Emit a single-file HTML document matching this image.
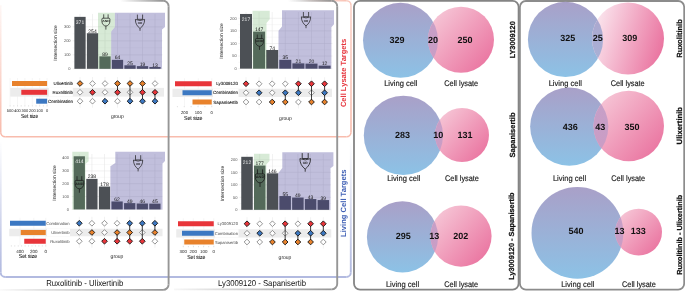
<!DOCTYPE html>
<html><head><meta charset="utf-8"><title>Figure</title>
<style>html,body{margin:0;padding:0;background:#fff;overflow:hidden}svg{display:block}text{font-family:"Liberation Sans",sans-serif;text-rendering:geometricPrecision}</style>
</head><body>
<svg width="685" height="291" viewBox="0 0 685 291">
<g style="will-change:transform">
<defs><linearGradient id="bg" x1="0" y1="0" x2="0" y2="1"><stop offset="0" stop-color="#a9a0c8"/><stop offset="1" stop-color="#8cc2e6"/></linearGradient><linearGradient id="pg1" x1="0.1" y1="0.1" x2="0.95" y2="0.85"><stop offset="0" stop-color="#f6c6d6"/><stop offset="1" stop-color="#ea74a0"/></linearGradient><linearGradient id="pg2" x1="0" y1="0.3" x2="1" y2="0.6"><stop offset="0" stop-color="#fbe9f0"/><stop offset="1" stop-color="#ea74a0"/></linearGradient><linearGradient id="lg1" x1="0" y1="0" x2="0" y2="1"><stop offset="0" stop-color="#c4a0c8"/><stop offset="1" stop-color="#cc9cc4"/></linearGradient><linearGradient id="lg2" x1="0" y1="0" x2="0" y2="1"><stop offset="0" stop-color="#aca4cc"/><stop offset="1" stop-color="#a8b4d8"/></linearGradient><linearGradient id="salm" x1="0" y1="0" x2="0" y2="1"><stop offset="0" stop-color="#f6b4a4" stop-opacity="0.25"/><stop offset="1" stop-color="#f6b09e" stop-opacity="1"/></linearGradient><linearGradient id="blub" x1="0" y1="0" x2="0" y2="1"><stop offset="0" stop-color="#b4b8e6" stop-opacity="0.1"/><stop offset="1" stop-color="#b0b6e6" stop-opacity="1"/></linearGradient><linearGradient id="gbox" x1="0" y1="0" x2="1" y2="1"><stop offset="0.36" stop-color="#666" stop-opacity="0"/><stop offset="0.5" stop-color="#666" stop-opacity="0.9"/><stop offset="1" stop-color="#555" stop-opacity="1"/></linearGradient></defs>
<linearGradient id="sat" gradientUnits="userSpaceOnUse" x1="300" y1="0" x2="346" y2="0"><stop offset="0" stop-color="#f8bcad" stop-opacity="0"/><stop offset="1" stop-color="#f8bcad" stop-opacity="0.9"/></linearGradient><path d="M5.2,0.7 H346.5" fill="none" stroke="url(#sat)" stroke-width="1.6"/><linearGradient id="sal" gradientUnits="userSpaceOnUse" x1="0" y1="5" x2="0" y2="132"><stop offset="0" stop-color="#f8bcad" stop-opacity="0.12"/><stop offset="1" stop-color="#f8bcad" stop-opacity="1"/></linearGradient><path d="M0.7,5.2 V132.3" fill="none" stroke="url(#sal)" stroke-width="1.6"/><linearGradient id="sar" gradientUnits="userSpaceOnUse" x1="0" y1="5.2" x2="0" y2="132.3"><stop offset="0" stop-color="#f8bcad" stop-opacity="0.7"/><stop offset="1" stop-color="#f8bcad" stop-opacity="1"/></linearGradient><path d="M351,5.2 V132.3" fill="none" stroke="url(#sar)" stroke-width="1.6"/><linearGradient id="sab" gradientUnits="userSpaceOnUse" x1="5.2" y1="0" x2="346.5" y2="0"><stop offset="0" stop-color="#f8bcad" stop-opacity="1"/><stop offset="1" stop-color="#f8bcad" stop-opacity="1"/></linearGradient><path d="M5.2,136.8 H346.5" fill="none" stroke="url(#sab)" stroke-width="1.6"/><path d="M346.5,0.7 A4.5,4.5 0 0 1 351,5.2" fill="none" stroke="#f8bcad" stroke-opacity="0.8" stroke-width="1.6"/><path d="M351,132.3 A4.5,4.5 0 0 1 346.5,136.8" fill="none" stroke="#f8bcad" stroke-opacity="1" stroke-width="1.6"/><path d="M5.2,136.8 A4.5,4.5 0 0 1 0.7,132.3" fill="none" stroke="#f8bcad" stroke-opacity="1" stroke-width="1.6"/><linearGradient id="bll" gradientUnits="userSpaceOnUse" x1="0" y1="140" x2="0" y2="272"><stop offset="0" stop-color="#b2bae0" stop-opacity="0"/><stop offset="1" stop-color="#b2bae0" stop-opacity="1"/></linearGradient><path d="M0.7,142.1 V272.5" fill="none" stroke="url(#bll)" stroke-width="1.9"/><linearGradient id="blr" gradientUnits="userSpaceOnUse" x1="0" y1="140" x2="0" y2="272"><stop offset="0" stop-color="#b2bae0" stop-opacity="0"/><stop offset="1" stop-color="#b2bae0" stop-opacity="1"/></linearGradient><path d="M350.8,142.1 V272.5" fill="none" stroke="url(#blr)" stroke-width="1.9"/><linearGradient id="blb" gradientUnits="userSpaceOnUse" x1="5.2" y1="0" x2="346.3" y2="0"><stop offset="0" stop-color="#b2bae0" stop-opacity="1"/><stop offset="1" stop-color="#b2bae0" stop-opacity="1"/></linearGradient><path d="M5.2,277 H346.3" fill="none" stroke="url(#blb)" stroke-width="1.9"/><path d="M350.8,272.5 A4.5,4.5 0 0 1 346.3,277" fill="none" stroke="#b2bae0" stroke-opacity="1" stroke-width="1.9"/><path d="M5.2,277 A4.5,4.5 0 0 1 0.7,272.5" fill="none" stroke="#b2bae0" stroke-opacity="1" stroke-width="1.9"/><line x1="72.5" y1="68.8" x2="162.5" y2="68.8" stroke="#e2e2e2" stroke-width="0.5"/><line x1="72.5" y1="54.8" x2="162.5" y2="54.8" stroke="#e2e2e2" stroke-width="0.5"/><line x1="72.5" y1="40.8" x2="162.5" y2="40.8" stroke="#e2e2e2" stroke-width="0.5"/><line x1="72.5" y1="26.8" x2="162.5" y2="26.8" stroke="#e2e2e2" stroke-width="0.5"/><line x1="72.5" y1="61.8" x2="162.5" y2="61.8" stroke="#efefef" stroke-width="0.4"/><line x1="72.5" y1="47.8" x2="162.5" y2="47.8" stroke="#efefef" stroke-width="0.4"/><line x1="72.5" y1="33.8" x2="162.5" y2="33.8" stroke="#efefef" stroke-width="0.4"/><line x1="72.5" y1="19.8" x2="162.5" y2="19.8" stroke="#efefef" stroke-width="0.4"/><line x1="80" y1="13.9" x2="80" y2="68.8" stroke="#e2e2e2" stroke-width="0.5"/><line x1="92.5" y1="13.9" x2="92.5" y2="68.8" stroke="#e2e2e2" stroke-width="0.5"/><line x1="105" y1="13.9" x2="105" y2="68.8" stroke="#e2e2e2" stroke-width="0.5"/><line x1="117.5" y1="13.9" x2="117.5" y2="68.8" stroke="#e2e2e2" stroke-width="0.5"/><line x1="130" y1="13.9" x2="130" y2="68.8" stroke="#e2e2e2" stroke-width="0.5"/><line x1="142.5" y1="13.9" x2="142.5" y2="68.8" stroke="#e2e2e2" stroke-width="0.5"/><line x1="155" y1="13.9" x2="155" y2="68.8" stroke="#e2e2e2" stroke-width="0.5"/><rect x="74.38" y="16.86" width="11.25" height="51.94" fill="#4c5055"/><rect x="86.88" y="33.24" width="11.25" height="35.56" fill="#4c5055"/><rect x="99.38" y="56.34" width="11.25" height="12.46" fill="#4c5055"/><rect x="111.88" y="59.84" width="11.25" height="8.96" fill="#4c5055"/><rect x="124.38" y="65.3" width="11.25" height="3.5" fill="#4c5055"/><rect x="136.88" y="66.14" width="11.25" height="2.66" fill="#4c5055"/><rect x="149.38" y="66.98" width="11.25" height="1.82" fill="#4c5055"/><polygon points="98,12.8 114.9,12.8 114.9,27.1 111.2,31.5 111.2,68.8 98,68.8" fill="rgba(107,177,103,0.27)"/><polygon points="114.9,12.8 165,12.8 165,27.1 162,29.4 162,68.8 111.2,68.8 111.2,31.5 114.9,27.1" fill="rgba(73,67,152,0.34)"/><text x="80" y="23.86" font-size="5" fill="#f2f2f2" text-anchor="middle">371</text><text x="92.5" y="32.84" font-size="5" fill="#111" text-anchor="middle">254</text><text x="105" y="55.94" font-size="5" fill="#111" text-anchor="middle">89</text><text x="117.5" y="59.44" font-size="5" fill="#111" text-anchor="middle">64</text><text x="130" y="64.9" font-size="5" fill="#111" text-anchor="middle">25</text><text x="142.5" y="65.74" font-size="5" fill="#111" text-anchor="middle">19</text><text x="155" y="66.58" font-size="5" fill="#111" text-anchor="middle">13</text><text x="70.6" y="70.2" font-size="4" fill="#555" text-anchor="end">0</text><text x="70.6" y="56.2" font-size="4" fill="#555" text-anchor="end">100</text><text x="70.6" y="42.2" font-size="4" fill="#555" text-anchor="end">200</text><text x="70.6" y="28.2" font-size="4" fill="#555" text-anchor="end">300</text><text transform="translate(57.2,43) rotate(-90)" font-size="4.9" fill="#222" text-anchor="middle">Intersection size</text><g transform="translate(105.9,14.3) scale(1)" fill="none" stroke="#1a1a1a" stroke-width="0.7" stroke-linecap="butt" stroke-linejoin="round"><path d="M-2.2,0 V3.9 M2.2,0 V3.9"/><path d="M-4,7 V4.9 Q-4,3.9 -3,3.9 H3 Q4,3.9 4,4.9 V7 C4,9.7 2,11.7 0,11.7 C-2,11.7 -4,9.7 -4,7 Z"/><path d="M0,11.7 V15.3"/><text x="0" y="7.75" font-size="3.1" text-anchor="middle" fill="#1a1a1a" stroke="none" font-weight="bold" transform="scale(1.12,1)">AND</text></g><g transform="translate(140,14.6) scale(1)" fill="none" stroke="#1a1a1a" stroke-width="0.7" stroke-linecap="butt" stroke-linejoin="round"><path d="M-2.6,0 V4.7 H2.6 V0"/><path d="M-4.6,4.8 Q0,7 4.6,4.8 C4.8,8.8 2.6,12 0,13.9 C-2.6,12 -4.8,8.8 -4.6,4.8 Z"/><path d="M0,13.9 V16.2"/><text x="0" y="9.8" font-size="2.9" text-anchor="middle" fill="#1a1a1a" stroke="none" font-weight="bold">OR</text></g><rect x="10.2" y="87.9" width="153.8" height="8.7" fill="#ececec"/><rect x="48.8" y="87.9" width="24" height="8.7" fill="#fff"/><line x1="10.1" y1="78" x2="10.1" y2="105.4" stroke="#ececec" stroke-width="0.5"/><line x1="17.5" y1="78" x2="17.5" y2="105.4" stroke="#ececec" stroke-width="0.5"/><line x1="24.9" y1="78" x2="24.9" y2="105.4" stroke="#ececec" stroke-width="0.5"/><line x1="32.3" y1="78" x2="32.3" y2="105.4" stroke="#ececec" stroke-width="0.5"/><line x1="39.7" y1="78" x2="39.7" y2="105.4" stroke="#ececec" stroke-width="0.5"/><line x1="47.1" y1="78" x2="47.1" y2="105.4" stroke="#ececec" stroke-width="0.5"/><line x1="47.1" y1="105.4" x2="47.1" y2="106.4" stroke="#b4b4b4" stroke-width="0.5"/><line x1="43.4" y1="105.4" x2="43.4" y2="106.4" stroke="#b4b4b4" stroke-width="0.5"/><line x1="39.7" y1="105.4" x2="39.7" y2="106.4" stroke="#b4b4b4" stroke-width="0.5"/><line x1="36" y1="105.4" x2="36" y2="106.4" stroke="#b4b4b4" stroke-width="0.5"/><line x1="32.3" y1="105.4" x2="32.3" y2="106.4" stroke="#b4b4b4" stroke-width="0.5"/><line x1="28.6" y1="105.4" x2="28.6" y2="106.4" stroke="#b4b4b4" stroke-width="0.5"/><line x1="24.9" y1="105.4" x2="24.9" y2="106.4" stroke="#b4b4b4" stroke-width="0.5"/><line x1="21.2" y1="105.4" x2="21.2" y2="106.4" stroke="#b4b4b4" stroke-width="0.5"/><line x1="17.5" y1="105.4" x2="17.5" y2="106.4" stroke="#b4b4b4" stroke-width="0.5"/><line x1="13.8" y1="105.4" x2="13.8" y2="106.4" stroke="#b4b4b4" stroke-width="0.5"/><line x1="10.1" y1="105.4" x2="10.1" y2="106.4" stroke="#b4b4b4" stroke-width="0.5"/><rect x="12" y="81" width="35.1" height="5" fill="#e8822c"/><rect x="21.3" y="89.8" width="25.8" height="5" fill="#e8353a"/><rect x="36.2" y="98.7" width="10.9" height="5" fill="#3c78c2"/><text x="10.1" y="111.8" font-size="4" fill="#222" text-anchor="middle">500</text><text x="17.5" y="111.8" font-size="4" fill="#222" text-anchor="middle">400</text><text x="24.9" y="111.8" font-size="4" fill="#222" text-anchor="middle">300</text><text x="32.3" y="111.8" font-size="4" fill="#222" text-anchor="middle">200</text><text x="39.7" y="111.8" font-size="4" fill="#222" text-anchor="middle">100</text><text x="47.1" y="111.8" font-size="4" fill="#222" text-anchor="middle">0</text><text x="29.65" y="117.7" font-size="5.8" fill="#1a1a1a" stroke="#1a1a1a" stroke-width="0.1" text-anchor="middle" textLength="17.1" lengthAdjust="spacingAndGlyphs">Set size</text><text x="117.3" y="117.7" font-size="5.1" fill="#222" text-anchor="middle" textLength="12.8" lengthAdjust="spacingAndGlyphs">group</text><text x="73" y="85.1" font-size="4.45" fill="#1c1c1c" stroke="#1c1c1c" stroke-width="0.1" text-anchor="end">Ulixertinib</text><text x="73" y="93.9" font-size="4.45" fill="#1c1c1c" stroke="#1c1c1c" stroke-width="0.1" text-anchor="end">Ruxolitinib</text><text x="73" y="102.8" font-size="4.45" fill="#1c1c1c" stroke="#1c1c1c" stroke-width="0.1" text-anchor="end">Combination</text><line x1="80" y1="77" x2="80" y2="107.7" stroke="#e4e4e4" stroke-width="0.5"/><line x1="92.5" y1="77" x2="92.5" y2="107.7" stroke="#e4e4e4" stroke-width="0.5"/><line x1="105" y1="77" x2="105" y2="107.7" stroke="#e4e4e4" stroke-width="0.5"/><line x1="117.5" y1="77" x2="117.5" y2="107.7" stroke="#e4e4e4" stroke-width="0.5"/><line x1="130" y1="77" x2="130" y2="107.7" stroke="#e4e4e4" stroke-width="0.5"/><line x1="142.5" y1="77" x2="142.5" y2="107.7" stroke="#e4e4e4" stroke-width="0.5"/><line x1="155" y1="77" x2="155" y2="107.7" stroke="#e4e4e4" stroke-width="0.5"/><polygon points="92.5,80.65 95.35,83.5 92.5,86.35 89.65,83.5" fill="#fff" stroke="#7a7a7a" stroke-width="0.8"/><polygon points="105,80.65 107.85,83.5 105,86.35 102.15,83.5" fill="#fff" stroke="#7a7a7a" stroke-width="0.8"/><polygon points="155,80.65 157.85,83.5 155,86.35 152.15,83.5" fill="#fff" stroke="#7a7a7a" stroke-width="0.8"/><polygon points="80,89.45 82.85,92.3 80,95.15 77.15,92.3" fill="#fff" stroke="#7a7a7a" stroke-width="0.8"/><polygon points="105,89.45 107.85,92.3 105,95.15 102.15,92.3" fill="#fff" stroke="#7a7a7a" stroke-width="0.8"/><polygon points="130,89.45 132.85,92.3 130,95.15 127.15,92.3" fill="#fff" stroke="#7a7a7a" stroke-width="0.8"/><polygon points="80,98.35 82.85,101.2 80,104.05 77.15,101.2" fill="#fff" stroke="#7a7a7a" stroke-width="0.8"/><polygon points="92.5,98.35 95.35,101.2 92.5,104.05 89.65,101.2" fill="#fff" stroke="#7a7a7a" stroke-width="0.8"/><polygon points="117.5,98.35 120.35,101.2 117.5,104.05 114.65,101.2" fill="#fff" stroke="#7a7a7a" stroke-width="0.8"/><line x1="117.5" y1="83.5" x2="117.5" y2="92.3" stroke="#111" stroke-width="0.8"/><line x1="130" y1="83.5" x2="130" y2="101.2" stroke="#111" stroke-width="0.8"/><line x1="142.5" y1="83.5" x2="142.5" y2="101.2" stroke="#111" stroke-width="0.8"/><line x1="155" y1="92.3" x2="155" y2="101.2" stroke="#111" stroke-width="0.8"/><polygon points="80,80.65 82.85,83.5 80,86.35 77.15,83.5" fill="#e8822c" stroke="#111" stroke-width="0.9"/><polygon points="117.5,80.65 120.35,83.5 117.5,86.35 114.65,83.5" fill="#e8822c" stroke="#111" stroke-width="0.9"/><polygon points="130,80.65 132.85,83.5 130,86.35 127.15,83.5" fill="#e8822c" stroke="#111" stroke-width="0.9"/><polygon points="142.5,80.65 145.35,83.5 142.5,86.35 139.65,83.5" fill="#e8822c" stroke="#111" stroke-width="0.9"/><polygon points="92.5,89.45 95.35,92.3 92.5,95.15 89.65,92.3" fill="#e8353a" stroke="#111" stroke-width="0.9"/><polygon points="117.5,89.45 120.35,92.3 117.5,95.15 114.65,92.3" fill="#e8353a" stroke="#111" stroke-width="0.9"/><polygon points="142.5,89.45 145.35,92.3 142.5,95.15 139.65,92.3" fill="#e8353a" stroke="#111" stroke-width="0.9"/><polygon points="155,89.45 157.85,92.3 155,95.15 152.15,92.3" fill="#e8353a" stroke="#111" stroke-width="0.9"/><polygon points="105,98.35 107.85,101.2 105,104.05 102.15,101.2" fill="#3c78c2" stroke="#111" stroke-width="0.9"/><polygon points="130,98.35 132.85,101.2 130,104.05 127.15,101.2" fill="#3c78c2" stroke="#111" stroke-width="0.9"/><polygon points="142.5,98.35 145.35,101.2 142.5,104.05 139.65,101.2" fill="#3c78c2" stroke="#111" stroke-width="0.9"/><polygon points="155,98.35 157.85,101.2 155,104.05 152.15,101.2" fill="#3c78c2" stroke="#111" stroke-width="0.9"/><line x1="238.14" y1="68.65" x2="332.46" y2="68.65" stroke="#e2e2e2" stroke-width="0.5"/><line x1="238.14" y1="56.05" x2="332.46" y2="56.05" stroke="#e2e2e2" stroke-width="0.5"/><line x1="238.14" y1="43.45" x2="332.46" y2="43.45" stroke="#e2e2e2" stroke-width="0.5"/><line x1="238.14" y1="30.85" x2="332.46" y2="30.85" stroke="#e2e2e2" stroke-width="0.5"/><line x1="238.14" y1="18.25" x2="332.46" y2="18.25" stroke="#e2e2e2" stroke-width="0.5"/><line x1="238.14" y1="62.35" x2="332.46" y2="62.35" stroke="#efefef" stroke-width="0.4"/><line x1="238.14" y1="49.75" x2="332.46" y2="49.75" stroke="#efefef" stroke-width="0.4"/><line x1="238.14" y1="37.15" x2="332.46" y2="37.15" stroke="#efefef" stroke-width="0.4"/><line x1="238.14" y1="24.55" x2="332.46" y2="24.55" stroke="#efefef" stroke-width="0.4"/><line x1="246" y1="12" x2="246" y2="68.65" stroke="#e2e2e2" stroke-width="0.5"/><line x1="259.1" y1="12" x2="259.1" y2="68.65" stroke="#e2e2e2" stroke-width="0.5"/><line x1="272.2" y1="12" x2="272.2" y2="68.65" stroke="#e2e2e2" stroke-width="0.5"/><line x1="285.3" y1="12" x2="285.3" y2="68.65" stroke="#e2e2e2" stroke-width="0.5"/><line x1="298.4" y1="12" x2="298.4" y2="68.65" stroke="#e2e2e2" stroke-width="0.5"/><line x1="311.5" y1="12" x2="311.5" y2="68.65" stroke="#e2e2e2" stroke-width="0.5"/><line x1="324.6" y1="12" x2="324.6" y2="68.65" stroke="#e2e2e2" stroke-width="0.5"/><rect x="240" y="13.97" width="12" height="54.68" fill="#4c5055"/><rect x="253.1" y="31.61" width="12" height="37.04" fill="#4c5055"/><rect x="266.2" y="50" width="12" height="18.65" fill="#4c5055"/><rect x="279.3" y="59.83" width="12" height="8.82" fill="#4c5055"/><rect x="292.4" y="63.36" width="12" height="5.29" fill="#4c5055"/><rect x="305.5" y="63.61" width="12" height="5.04" fill="#4c5055"/><rect x="318.6" y="65.63" width="12" height="3.02" fill="#4c5055"/><polygon points="252.6,10.8 269.7,10.8 269.7,19.2 266.5,23 266.5,68.65 252.6,68.65" fill="rgba(107,177,103,0.27)"/><polygon points="282,10.2 334,10.2 334,24.3 331.4,27.3 331.4,68.65 278.5,68.65 278.5,30.7 282,26.5" fill="rgba(73,67,152,0.34)"/><text x="246" y="20.97" font-size="5" fill="#f2f2f2" text-anchor="middle">217</text><text x="259.1" y="31.21" font-size="5" fill="#111" text-anchor="middle">147</text><text x="272.2" y="49.6" font-size="5" fill="#111" text-anchor="middle">74</text><text x="285.3" y="59.43" font-size="5" fill="#111" text-anchor="middle">35</text><text x="298.4" y="62.96" font-size="5" fill="#111" text-anchor="middle">21</text><text x="311.5" y="63.21" font-size="5" fill="#111" text-anchor="middle">20</text><text x="324.6" y="65.23" font-size="5" fill="#111" text-anchor="middle">12</text><text x="236.7" y="70.05" font-size="4" fill="#555" text-anchor="end">0</text><text x="236.7" y="57.45" font-size="4" fill="#555" text-anchor="end">50</text><text x="236.7" y="44.85" font-size="4" fill="#555" text-anchor="end">100</text><text x="236.7" y="32.25" font-size="4" fill="#555" text-anchor="end">150</text><text x="236.7" y="19.65" font-size="4" fill="#555" text-anchor="end">200</text><text transform="translate(223.2,41) rotate(-90)" font-size="4.9" fill="#222" text-anchor="middle">Intersection size</text><g transform="translate(259.5,34.6) scale(1)" fill="none" stroke="#1a1a1a" stroke-width="0.7" stroke-linecap="butt" stroke-linejoin="round"><path d="M-2.2,0 V3.9 M2.2,0 V3.9"/><path d="M-4,7 V4.9 Q-4,3.9 -3,3.9 H3 Q4,3.9 4,4.9 V7 C4,9.7 2,11.7 0,11.7 C-2,11.7 -4,9.7 -4,7 Z"/><path d="M0,11.7 V15.3"/><text x="0" y="7.75" font-size="3.1" text-anchor="middle" fill="#1a1a1a" stroke="none" font-weight="bold" transform="scale(1.12,1)">AND</text></g><g transform="translate(306,12) scale(1)" fill="none" stroke="#1a1a1a" stroke-width="0.7" stroke-linecap="butt" stroke-linejoin="round"><path d="M-2.6,0 V4.7 H2.6 V0"/><path d="M-4.6,4.8 Q0,7 4.6,4.8 C4.8,8.8 2.6,12 0,13.9 C-2.6,12 -4.8,8.8 -4.6,4.8 Z"/><path d="M0,13.9 V16.2"/><text x="0" y="9.8" font-size="2.9" text-anchor="middle" fill="#1a1a1a" stroke="none" font-weight="bold">OR</text></g><rect x="172.5" y="88.75" width="159.5" height="8.25" fill="#ececec"/><rect x="213" y="88.75" width="25.5" height="8.25" fill="#fff"/><line x1="184.5" y1="78.25" x2="184.5" y2="106.2" stroke="#ececec" stroke-width="0.5"/><line x1="198.25" y1="78.25" x2="198.25" y2="106.2" stroke="#ececec" stroke-width="0.5"/><line x1="211.75" y1="78.25" x2="211.75" y2="106.2" stroke="#ececec" stroke-width="0.5"/><line x1="211.75" y1="106.2" x2="211.75" y2="107.2" stroke="#b4b4b4" stroke-width="0.5"/><line x1="204.88" y1="106.2" x2="204.88" y2="107.2" stroke="#b4b4b4" stroke-width="0.5"/><line x1="198" y1="106.2" x2="198" y2="107.2" stroke="#b4b4b4" stroke-width="0.5"/><line x1="191.12" y1="106.2" x2="191.12" y2="107.2" stroke="#b4b4b4" stroke-width="0.5"/><line x1="184.25" y1="106.2" x2="184.25" y2="107.2" stroke="#b4b4b4" stroke-width="0.5"/><line x1="177.38" y1="106.2" x2="177.38" y2="107.2" stroke="#b4b4b4" stroke-width="0.5"/><rect x="175" y="81.25" width="36.75" height="5" fill="#e8353a"/><rect x="182.5" y="90.25" width="29.25" height="5" fill="#3c78c2"/><rect x="192.5" y="99.5" width="19.25" height="5" fill="#e8822c"/><text x="184.5" y="113.5" font-size="4.2" fill="#222" text-anchor="middle">200</text><text x="198.25" y="113.5" font-size="4.2" fill="#222" text-anchor="middle">100</text><text x="211.75" y="113.5" font-size="4.2" fill="#222" text-anchor="middle">0</text><text x="193.25" y="119.5" font-size="5.8" fill="#1a1a1a" stroke="#1a1a1a" stroke-width="0.1" text-anchor="middle" textLength="18.5" lengthAdjust="spacingAndGlyphs">Set size</text><text x="285.5" y="119.5" font-size="5.1" fill="#222" text-anchor="middle" textLength="12.8" lengthAdjust="spacingAndGlyphs">group</text><text x="238" y="85.35" font-size="4.45" fill="#1c1c1c" stroke="#1c1c1c" stroke-width="0.1" text-anchor="end">Ly3009120</text><text x="238" y="94.35" font-size="4.45" fill="#1c1c1c" stroke="#1c1c1c" stroke-width="0.1" text-anchor="end">Combination</text><text x="238" y="103.6" font-size="4.45" fill="#1c1c1c" stroke="#1c1c1c" stroke-width="0.1" text-anchor="end">Sapanisertib</text><line x1="246" y1="77.25" x2="246" y2="108.5" stroke="#e4e4e4" stroke-width="0.5"/><line x1="259.1" y1="77.25" x2="259.1" y2="108.5" stroke="#e4e4e4" stroke-width="0.5"/><line x1="272.2" y1="77.25" x2="272.2" y2="108.5" stroke="#e4e4e4" stroke-width="0.5"/><line x1="285.3" y1="77.25" x2="285.3" y2="108.5" stroke="#e4e4e4" stroke-width="0.5"/><line x1="298.4" y1="77.25" x2="298.4" y2="108.5" stroke="#e4e4e4" stroke-width="0.5"/><line x1="311.5" y1="77.25" x2="311.5" y2="108.5" stroke="#e4e4e4" stroke-width="0.5"/><line x1="324.6" y1="77.25" x2="324.6" y2="108.5" stroke="#e4e4e4" stroke-width="0.5"/><polygon points="259.1,80.9 261.95,83.75 259.1,86.6 256.25,83.75" fill="#fff" stroke="#7a7a7a" stroke-width="0.8"/><polygon points="272.2,80.9 275.05,83.75 272.2,86.6 269.35,83.75" fill="#fff" stroke="#7a7a7a" stroke-width="0.8"/><polygon points="285.3,80.9 288.15,83.75 285.3,86.6 282.45,83.75" fill="#fff" stroke="#7a7a7a" stroke-width="0.8"/><polygon points="246,89.9 248.85,92.75 246,95.6 243.15,92.75" fill="#fff" stroke="#7a7a7a" stroke-width="0.8"/><polygon points="272.2,89.9 275.05,92.75 272.2,95.6 269.35,92.75" fill="#fff" stroke="#7a7a7a" stroke-width="0.8"/><polygon points="311.5,89.9 314.35,92.75 311.5,95.6 308.65,92.75" fill="#fff" stroke="#7a7a7a" stroke-width="0.8"/><polygon points="246,99.15 248.85,102 246,104.85 243.15,102" fill="#fff" stroke="#7a7a7a" stroke-width="0.8"/><polygon points="259.1,99.15 261.95,102 259.1,104.85 256.25,102" fill="#fff" stroke="#7a7a7a" stroke-width="0.8"/><polygon points="298.4,99.15 301.25,102 298.4,104.85 295.55,102" fill="#fff" stroke="#7a7a7a" stroke-width="0.8"/><line x1="285.3" y1="92.75" x2="285.3" y2="102" stroke="#111" stroke-width="0.8"/><line x1="298.4" y1="83.75" x2="298.4" y2="92.75" stroke="#111" stroke-width="0.8"/><line x1="311.5" y1="83.75" x2="311.5" y2="102" stroke="#111" stroke-width="0.8"/><line x1="324.6" y1="83.75" x2="324.6" y2="102" stroke="#111" stroke-width="0.8"/><polygon points="246,80.9 248.85,83.75 246,86.6 243.15,83.75" fill="#e8353a" stroke="#111" stroke-width="0.9"/><polygon points="298.4,80.9 301.25,83.75 298.4,86.6 295.55,83.75" fill="#e8353a" stroke="#111" stroke-width="0.9"/><polygon points="311.5,80.9 314.35,83.75 311.5,86.6 308.65,83.75" fill="#e8353a" stroke="#111" stroke-width="0.9"/><polygon points="324.6,80.9 327.45,83.75 324.6,86.6 321.75,83.75" fill="#e8353a" stroke="#111" stroke-width="0.9"/><polygon points="259.1,89.9 261.95,92.75 259.1,95.6 256.25,92.75" fill="#3c78c2" stroke="#111" stroke-width="0.9"/><polygon points="285.3,89.9 288.15,92.75 285.3,95.6 282.45,92.75" fill="#3c78c2" stroke="#111" stroke-width="0.9"/><polygon points="298.4,89.9 301.25,92.75 298.4,95.6 295.55,92.75" fill="#3c78c2" stroke="#111" stroke-width="0.9"/><polygon points="324.6,89.9 327.45,92.75 324.6,95.6 321.75,92.75" fill="#3c78c2" stroke="#111" stroke-width="0.9"/><polygon points="272.2,99.15 275.05,102 272.2,104.85 269.35,102" fill="#e8822c" stroke="#111" stroke-width="0.9"/><polygon points="285.3,99.15 288.15,102 285.3,104.85 282.45,102" fill="#e8822c" stroke="#111" stroke-width="0.9"/><polygon points="311.5,99.15 314.35,102 311.5,104.85 308.65,102" fill="#e8822c" stroke="#111" stroke-width="0.9"/><polygon points="324.6,99.15 327.45,102 324.6,104.85 321.75,102" fill="#e8822c" stroke="#111" stroke-width="0.9"/><line x1="71.74" y1="209.4" x2="162.46" y2="209.4" stroke="#e2e2e2" stroke-width="0.5"/><line x1="71.74" y1="196.57" x2="162.46" y2="196.57" stroke="#e2e2e2" stroke-width="0.5"/><line x1="71.74" y1="183.74" x2="162.46" y2="183.74" stroke="#e2e2e2" stroke-width="0.5"/><line x1="71.74" y1="170.91" x2="162.46" y2="170.91" stroke="#e2e2e2" stroke-width="0.5"/><line x1="71.74" y1="158.08" x2="162.46" y2="158.08" stroke="#e2e2e2" stroke-width="0.5"/><line x1="71.74" y1="202.99" x2="162.46" y2="202.99" stroke="#efefef" stroke-width="0.4"/><line x1="71.74" y1="190.16" x2="162.46" y2="190.16" stroke="#efefef" stroke-width="0.4"/><line x1="71.74" y1="177.32" x2="162.46" y2="177.32" stroke="#efefef" stroke-width="0.4"/><line x1="71.74" y1="164.5" x2="162.46" y2="164.5" stroke="#efefef" stroke-width="0.4"/><line x1="79.3" y1="154" x2="79.3" y2="209.4" stroke="#e2e2e2" stroke-width="0.5"/><line x1="91.9" y1="154" x2="91.9" y2="209.4" stroke="#e2e2e2" stroke-width="0.5"/><line x1="104.5" y1="154" x2="104.5" y2="209.4" stroke="#e2e2e2" stroke-width="0.5"/><line x1="117.1" y1="154" x2="117.1" y2="209.4" stroke="#e2e2e2" stroke-width="0.5"/><line x1="129.7" y1="154" x2="129.7" y2="209.4" stroke="#e2e2e2" stroke-width="0.5"/><line x1="142.3" y1="154" x2="142.3" y2="209.4" stroke="#e2e2e2" stroke-width="0.5"/><line x1="154.9" y1="154" x2="154.9" y2="209.4" stroke="#e2e2e2" stroke-width="0.5"/><rect x="73.67" y="156.28" width="11.25" height="53.12" fill="#4c5055"/><rect x="86.27" y="178.86" width="11.25" height="30.54" fill="#4c5055"/><rect x="98.88" y="186.56" width="11.25" height="22.84" fill="#4c5055"/><rect x="111.47" y="201.45" width="11.25" height="7.95" fill="#4c5055"/><rect x="124.07" y="203.11" width="11.25" height="6.29" fill="#4c5055"/><rect x="136.68" y="203.5" width="11.25" height="5.9" fill="#4c5055"/><rect x="149.27" y="203.63" width="11.25" height="5.77" fill="#4c5055"/><polygon points="72.3,151.7 88.6,151.7 88.6,161.2 85.5,164 85.5,209.4 72.3,209.4" fill="rgba(107,177,103,0.27)"/><polygon points="115.3,151.75 165,151.75 165,161 162.5,163.5 162.5,209.4 110.4,209.4 110.4,166.2 115.3,163" fill="rgba(73,67,152,0.34)"/><text x="79.3" y="163.28" font-size="5" fill="#f2f2f2" text-anchor="middle">414</text><text x="91.9" y="178.46" font-size="5" fill="#111" text-anchor="middle">238</text><text x="104.5" y="186.16" font-size="5" fill="#111" text-anchor="middle">178</text><text x="117.1" y="201.05" font-size="5" fill="#111" text-anchor="middle">62</text><text x="129.7" y="202.71" font-size="5" fill="#111" text-anchor="middle">49</text><text x="142.3" y="203.1" font-size="5" fill="#111" text-anchor="middle">46</text><text x="154.9" y="203.23" font-size="5" fill="#111" text-anchor="middle">45</text><text x="69" y="210.8" font-size="4" fill="#555" text-anchor="end">0</text><text x="69" y="197.97" font-size="4" fill="#555" text-anchor="end">100</text><text x="69" y="185.14" font-size="4" fill="#555" text-anchor="end">200</text><text x="69" y="172.31" font-size="4" fill="#555" text-anchor="end">300</text><text x="69" y="159.48" font-size="4" fill="#555" text-anchor="end">400</text><text transform="translate(56.2,183) rotate(-90)" font-size="4.9" fill="#222" text-anchor="middle">Intersection size</text><g transform="translate(79.4,176.2) scale(1.08)" fill="none" stroke="#1a1a1a" stroke-width="0.7" stroke-linecap="butt" stroke-linejoin="round"><path d="M-2.2,0 V3.9 M2.2,0 V3.9"/><path d="M-4,7 V4.9 Q-4,3.9 -3,3.9 H3 Q4,3.9 4,4.9 V7 C4,9.7 2,11.7 0,11.7 C-2,11.7 -4,9.7 -4,7 Z"/><path d="M0,11.7 V15.3"/><text x="0" y="7.75" font-size="3.1" text-anchor="middle" fill="#1a1a1a" stroke="none" font-weight="bold" transform="scale(1.12,1)">AND</text></g><g transform="translate(138.1,155.2) scale(1)" fill="none" stroke="#1a1a1a" stroke-width="0.7" stroke-linecap="butt" stroke-linejoin="round"><path d="M-2.6,0 V4.7 H2.6 V0"/><path d="M-4.6,4.8 Q0,7 4.6,4.8 C4.8,8.8 2.6,12 0,13.9 C-2.6,12 -4.8,8.8 -4.6,4.8 Z"/><path d="M0,13.9 V16.2"/><text x="0" y="9.8" font-size="2.9" text-anchor="middle" fill="#1a1a1a" stroke="none" font-weight="bold">OR</text></g><rect x="9.25" y="228.75" width="153.25" height="7.5" fill="#ececec"/><rect x="47" y="228.75" width="23" height="7.5" fill="#fff"/><line x1="20" y1="217.75" x2="20" y2="245.45" stroke="#ececec" stroke-width="0.5"/><line x1="33.75" y1="217.75" x2="33.75" y2="245.45" stroke="#ececec" stroke-width="0.5"/><line x1="45.75" y1="217.75" x2="45.75" y2="245.45" stroke="#ececec" stroke-width="0.5"/><line x1="45.75" y1="245.45" x2="45.75" y2="246.45" stroke="#b4b4b4" stroke-width="0.5"/><line x1="42.31" y1="245.45" x2="42.31" y2="246.45" stroke="#b4b4b4" stroke-width="0.5"/><line x1="38.87" y1="245.45" x2="38.87" y2="246.45" stroke="#b4b4b4" stroke-width="0.5"/><line x1="35.43" y1="245.45" x2="35.43" y2="246.45" stroke="#b4b4b4" stroke-width="0.5"/><line x1="31.99" y1="245.45" x2="31.99" y2="246.45" stroke="#b4b4b4" stroke-width="0.5"/><line x1="28.55" y1="245.45" x2="28.55" y2="246.45" stroke="#b4b4b4" stroke-width="0.5"/><line x1="25.11" y1="245.45" x2="25.11" y2="246.45" stroke="#b4b4b4" stroke-width="0.5"/><line x1="21.67" y1="245.45" x2="21.67" y2="246.45" stroke="#b4b4b4" stroke-width="0.5"/><line x1="18.23" y1="245.45" x2="18.23" y2="246.45" stroke="#b4b4b4" stroke-width="0.5"/><line x1="14.79" y1="245.45" x2="14.79" y2="246.45" stroke="#b4b4b4" stroke-width="0.5"/><line x1="11.35" y1="245.45" x2="11.35" y2="246.45" stroke="#b4b4b4" stroke-width="0.5"/><rect x="10" y="220.75" width="35.75" height="5" fill="#3c78c2"/><rect x="20.75" y="230" width="25" height="5" fill="#e8822c"/><rect x="24.25" y="238.75" width="21.5" height="5" fill="#e8353a"/><text x="20" y="252.9" font-size="4.5" fill="#222" text-anchor="middle">400</text><text x="33.75" y="252.9" font-size="4.5" fill="#222" text-anchor="middle">200</text><text x="45.75" y="252.9" font-size="4.5" fill="#222" text-anchor="middle">0</text><text x="28" y="258.1" font-size="5.8" fill="#1a1a1a" stroke="#1a1a1a" stroke-width="0.1" text-anchor="middle" textLength="18.5" lengthAdjust="spacingAndGlyphs">Set size</text><text x="117" y="258.1" font-size="5.1" fill="#222" text-anchor="middle" textLength="12.8" lengthAdjust="spacingAndGlyphs">group</text><text x="69.5" y="224.85" font-size="4.17" fill="#4a4a4a" text-anchor="end">Combination</text><text x="69.5" y="234.1" font-size="4.17" fill="#4a4a4a" text-anchor="end">Ulixertinib</text><text x="69.5" y="242.85" font-size="4.17" fill="#4a4a4a" text-anchor="end">Ruxolitinib</text><line x1="79.3" y1="216.75" x2="79.3" y2="247.75" stroke="#e4e4e4" stroke-width="0.5"/><line x1="91.9" y1="216.75" x2="91.9" y2="247.75" stroke="#e4e4e4" stroke-width="0.5"/><line x1="104.5" y1="216.75" x2="104.5" y2="247.75" stroke="#e4e4e4" stroke-width="0.5"/><line x1="117.1" y1="216.75" x2="117.1" y2="247.75" stroke="#e4e4e4" stroke-width="0.5"/><line x1="129.7" y1="216.75" x2="129.7" y2="247.75" stroke="#e4e4e4" stroke-width="0.5"/><line x1="142.3" y1="216.75" x2="142.3" y2="247.75" stroke="#e4e4e4" stroke-width="0.5"/><line x1="154.9" y1="216.75" x2="154.9" y2="247.75" stroke="#e4e4e4" stroke-width="0.5"/><polygon points="91.9,220.4 94.75,223.25 91.9,226.1 89.05,223.25" fill="#fff" stroke="#7a7a7a" stroke-width="0.8"/><polygon points="104.5,220.4 107.35,223.25 104.5,226.1 101.65,223.25" fill="#fff" stroke="#7a7a7a" stroke-width="0.8"/><polygon points="117.1,220.4 119.95,223.25 117.1,226.1 114.25,223.25" fill="#fff" stroke="#7a7a7a" stroke-width="0.8"/><polygon points="79.3,229.65 82.15,232.5 79.3,235.35 76.45,232.5" fill="#fff" stroke="#7a7a7a" stroke-width="0.8"/><polygon points="104.5,229.65 107.35,232.5 104.5,235.35 101.65,232.5" fill="#fff" stroke="#7a7a7a" stroke-width="0.8"/><polygon points="142.3,229.65 145.15,232.5 142.3,235.35 139.45,232.5" fill="#fff" stroke="#7a7a7a" stroke-width="0.8"/><polygon points="79.3,238.4 82.15,241.25 79.3,244.1 76.45,241.25" fill="#fff" stroke="#7a7a7a" stroke-width="0.8"/><polygon points="91.9,238.4 94.75,241.25 91.9,244.1 89.05,241.25" fill="#fff" stroke="#7a7a7a" stroke-width="0.8"/><polygon points="154.9,238.4 157.75,241.25 154.9,244.1 152.05,241.25" fill="#fff" stroke="#7a7a7a" stroke-width="0.8"/><line x1="117.1" y1="232.5" x2="117.1" y2="241.25" stroke="#111" stroke-width="0.8"/><line x1="129.7" y1="223.25" x2="129.7" y2="241.25" stroke="#111" stroke-width="0.8"/><line x1="142.3" y1="223.25" x2="142.3" y2="241.25" stroke="#111" stroke-width="0.8"/><line x1="154.9" y1="223.25" x2="154.9" y2="232.5" stroke="#111" stroke-width="0.8"/><polygon points="79.3,220.4 82.15,223.25 79.3,226.1 76.45,223.25" fill="#3c78c2" stroke="#111" stroke-width="0.9"/><polygon points="129.7,220.4 132.55,223.25 129.7,226.1 126.85,223.25" fill="#3c78c2" stroke="#111" stroke-width="0.9"/><polygon points="142.3,220.4 145.15,223.25 142.3,226.1 139.45,223.25" fill="#3c78c2" stroke="#111" stroke-width="0.9"/><polygon points="154.9,220.4 157.75,223.25 154.9,226.1 152.05,223.25" fill="#3c78c2" stroke="#111" stroke-width="0.9"/><polygon points="91.9,229.65 94.75,232.5 91.9,235.35 89.05,232.5" fill="#e8822c" stroke="#111" stroke-width="0.9"/><polygon points="117.1,229.65 119.95,232.5 117.1,235.35 114.25,232.5" fill="#e8822c" stroke="#111" stroke-width="0.9"/><polygon points="129.7,229.65 132.55,232.5 129.7,235.35 126.85,232.5" fill="#e8822c" stroke="#111" stroke-width="0.9"/><polygon points="154.9,229.65 157.75,232.5 154.9,235.35 152.05,232.5" fill="#e8822c" stroke="#111" stroke-width="0.9"/><polygon points="104.5,238.4 107.35,241.25 104.5,244.1 101.65,241.25" fill="#e8353a" stroke="#111" stroke-width="0.9"/><polygon points="117.1,238.4 119.95,241.25 117.1,244.1 114.25,241.25" fill="#e8353a" stroke="#111" stroke-width="0.9"/><polygon points="129.7,238.4 132.55,241.25 129.7,244.1 126.85,241.25" fill="#e8353a" stroke="#111" stroke-width="0.9"/><polygon points="142.3,238.4 145.15,241.25 142.3,244.1 139.45,241.25" fill="#e8353a" stroke="#111" stroke-width="0.9"/><line x1="239.37" y1="209.8" x2="330.95" y2="209.8" stroke="#e2e2e2" stroke-width="0.5"/><line x1="239.37" y1="197.3" x2="330.95" y2="197.3" stroke="#e2e2e2" stroke-width="0.5"/><line x1="239.37" y1="184.8" x2="330.95" y2="184.8" stroke="#e2e2e2" stroke-width="0.5"/><line x1="239.37" y1="172.3" x2="330.95" y2="172.3" stroke="#e2e2e2" stroke-width="0.5"/><line x1="239.37" y1="159.8" x2="330.95" y2="159.8" stroke="#e2e2e2" stroke-width="0.5"/><line x1="239.37" y1="203.55" x2="330.95" y2="203.55" stroke="#efefef" stroke-width="0.4"/><line x1="239.37" y1="191.05" x2="330.95" y2="191.05" stroke="#efefef" stroke-width="0.4"/><line x1="239.37" y1="178.55" x2="330.95" y2="178.55" stroke="#efefef" stroke-width="0.4"/><line x1="239.37" y1="166.05" x2="330.95" y2="166.05" stroke="#efefef" stroke-width="0.4"/><line x1="247" y1="154" x2="247" y2="209.8" stroke="#e2e2e2" stroke-width="0.5"/><line x1="259.72" y1="154" x2="259.72" y2="209.8" stroke="#e2e2e2" stroke-width="0.5"/><line x1="272.44" y1="154" x2="272.44" y2="209.8" stroke="#e2e2e2" stroke-width="0.5"/><line x1="285.16" y1="154" x2="285.16" y2="209.8" stroke="#e2e2e2" stroke-width="0.5"/><line x1="297.88" y1="154" x2="297.88" y2="209.8" stroke="#e2e2e2" stroke-width="0.5"/><line x1="310.6" y1="154" x2="310.6" y2="209.8" stroke="#e2e2e2" stroke-width="0.5"/><line x1="323.32" y1="154" x2="323.32" y2="209.8" stroke="#e2e2e2" stroke-width="0.5"/><rect x="241.25" y="156.8" width="11.5" height="53" fill="#4c5055"/><rect x="253.97" y="165.55" width="11.5" height="44.25" fill="#4c5055"/><rect x="266.69" y="173.3" width="11.5" height="36.5" fill="#4c5055"/><rect x="279.41" y="196.05" width="11.5" height="13.75" fill="#4c5055"/><rect x="292.13" y="197.55" width="11.5" height="12.25" fill="#4c5055"/><rect x="304.85" y="199.05" width="11.5" height="10.75" fill="#4c5055"/><rect x="317.57" y="200.05" width="11.5" height="9.75" fill="#4c5055"/><polygon points="254,153.75 269.5,153.75 269.5,161 266.3,164.5 266.3,209.8 254,209.8" fill="rgba(107,177,103,0.27)"/><polygon points="282.3,152.2 333.4,152.2 333.4,166.1 330.5,168.3 330.5,209.8 278.2,209.8 278.2,173.2 282.3,168" fill="rgba(73,67,152,0.34)"/><text x="247" y="163.8" font-size="5" fill="#f2f2f2" text-anchor="middle">212</text><text x="259.72" y="165.15" font-size="5" fill="#111" text-anchor="middle">177</text><text x="272.44" y="172.9" font-size="5" fill="#111" text-anchor="middle">146</text><text x="285.16" y="195.65" font-size="5" fill="#111" text-anchor="middle">55</text><text x="297.88" y="197.15" font-size="5" fill="#111" text-anchor="middle">49</text><text x="310.6" y="198.65" font-size="5" fill="#111" text-anchor="middle">43</text><text x="323.32" y="199.65" font-size="5" fill="#111" text-anchor="middle">39</text><text x="237.5" y="211.2" font-size="4" fill="#555" text-anchor="end">0</text><text x="237.5" y="198.7" font-size="4" fill="#555" text-anchor="end">50</text><text x="237.5" y="186.2" font-size="4" fill="#555" text-anchor="end">100</text><text x="237.5" y="173.7" font-size="4" fill="#555" text-anchor="end">150</text><text x="237.5" y="161.2" font-size="4" fill="#555" text-anchor="end">200</text><text transform="translate(223.7,183.4) rotate(-90)" font-size="4.9" fill="#222" text-anchor="middle">Intersection size</text><g transform="translate(260,169.4) scale(1.15)" fill="none" stroke="#1a1a1a" stroke-width="0.7" stroke-linecap="butt" stroke-linejoin="round"><path d="M-2.2,0 V3.9 M2.2,0 V3.9"/><path d="M-4,7 V4.9 Q-4,3.9 -3,3.9 H3 Q4,3.9 4,4.9 V7 C4,9.7 2,11.7 0,11.7 C-2,11.7 -4,9.7 -4,7 Z"/><path d="M0,11.7 V15.3"/><text x="0" y="7.75" font-size="3.1" text-anchor="middle" fill="#1a1a1a" stroke="none" font-weight="bold" transform="scale(1.12,1)">AND</text></g><g transform="translate(305.2,153.1) scale(1.15)" fill="none" stroke="#1a1a1a" stroke-width="0.7" stroke-linecap="butt" stroke-linejoin="round"><path d="M-2.6,0 V4.7 H2.6 V0"/><path d="M-4.6,4.8 Q0,7 4.6,4.8 C4.8,8.8 2.6,12 0,13.9 C-2.6,12 -4.8,8.8 -4.6,4.8 Z"/><path d="M0,13.9 V16.2"/><text x="0" y="9.8" font-size="2.9" text-anchor="middle" fill="#1a1a1a" stroke="none" font-weight="bold">OR</text></g><rect x="176.25" y="229.25" width="155" height="8.25" fill="#ececec"/><rect x="215" y="229.25" width="23.5" height="8.25" fill="#fff"/><line x1="183.25" y1="218.25" x2="183.25" y2="246.2" stroke="#ececec" stroke-width="0.5"/><line x1="193.25" y1="218.25" x2="193.25" y2="246.2" stroke="#ececec" stroke-width="0.5"/><line x1="203.75" y1="218.25" x2="203.75" y2="246.2" stroke="#ececec" stroke-width="0.5"/><line x1="213.75" y1="218.25" x2="213.75" y2="246.2" stroke="#ececec" stroke-width="0.5"/><line x1="213.75" y1="246.2" x2="213.75" y2="247.2" stroke="#b4b4b4" stroke-width="0.5"/><line x1="208.67" y1="246.2" x2="208.67" y2="247.2" stroke="#b4b4b4" stroke-width="0.5"/><line x1="203.59" y1="246.2" x2="203.59" y2="247.2" stroke="#b4b4b4" stroke-width="0.5"/><line x1="198.51" y1="246.2" x2="198.51" y2="247.2" stroke="#b4b4b4" stroke-width="0.5"/><line x1="193.43" y1="246.2" x2="193.43" y2="247.2" stroke="#b4b4b4" stroke-width="0.5"/><line x1="188.35" y1="246.2" x2="188.35" y2="247.2" stroke="#b4b4b4" stroke-width="0.5"/><line x1="183.27" y1="246.2" x2="183.27" y2="247.2" stroke="#b4b4b4" stroke-width="0.5"/><rect x="178" y="221.25" width="35.75" height="5" fill="#e8353a"/><rect x="182" y="230.75" width="31.75" height="5" fill="#3c78c2"/><rect x="184.25" y="239.5" width="29.5" height="5" fill="#e8822c"/><text x="183.25" y="253.2" font-size="4.4" fill="#222" text-anchor="middle">300</text><text x="193.25" y="253.2" font-size="4.4" fill="#222" text-anchor="middle">200</text><text x="203.75" y="253.2" font-size="4.4" fill="#222" text-anchor="middle">100</text><text x="213.75" y="253.2" font-size="4.4" fill="#222" text-anchor="middle">0</text><text x="196.25" y="259" font-size="5.8" fill="#1a1a1a" stroke="#1a1a1a" stroke-width="0.1" text-anchor="middle" textLength="18" lengthAdjust="spacingAndGlyphs">Set size</text><text x="285" y="259" font-size="5.1" fill="#222" text-anchor="middle" textLength="12.8" lengthAdjust="spacingAndGlyphs">group</text><text x="238" y="225.35" font-size="4.17" fill="#4a4a4a" text-anchor="end">Ly3009120</text><text x="238" y="234.85" font-size="4.17" fill="#4a4a4a" text-anchor="end">Combination</text><text x="238" y="243.6" font-size="4.17" fill="#4a4a4a" text-anchor="end">Sapanisertib</text><line x1="247" y1="217.25" x2="247" y2="248.5" stroke="#e4e4e4" stroke-width="0.5"/><line x1="259.72" y1="217.25" x2="259.72" y2="248.5" stroke="#e4e4e4" stroke-width="0.5"/><line x1="272.44" y1="217.25" x2="272.44" y2="248.5" stroke="#e4e4e4" stroke-width="0.5"/><line x1="285.16" y1="217.25" x2="285.16" y2="248.5" stroke="#e4e4e4" stroke-width="0.5"/><line x1="297.88" y1="217.25" x2="297.88" y2="248.5" stroke="#e4e4e4" stroke-width="0.5"/><line x1="310.6" y1="217.25" x2="310.6" y2="248.5" stroke="#e4e4e4" stroke-width="0.5"/><line x1="323.32" y1="217.25" x2="323.32" y2="248.5" stroke="#e4e4e4" stroke-width="0.5"/><polygon points="259.72,220.9 262.57,223.75 259.72,226.6 256.87,223.75" fill="#fff" stroke="#7a7a7a" stroke-width="0.8"/><polygon points="272.44,220.9 275.29,223.75 272.44,226.6 269.59,223.75" fill="#fff" stroke="#7a7a7a" stroke-width="0.8"/><polygon points="297.88,220.9 300.73,223.75 297.88,226.6 295.03,223.75" fill="#fff" stroke="#7a7a7a" stroke-width="0.8"/><polygon points="247,230.4 249.85,233.25 247,236.1 244.15,233.25" fill="#fff" stroke="#7a7a7a" stroke-width="0.8"/><polygon points="272.44,230.4 275.29,233.25 272.44,236.1 269.59,233.25" fill="#fff" stroke="#7a7a7a" stroke-width="0.8"/><polygon points="285.16,230.4 288.01,233.25 285.16,236.1 282.31,233.25" fill="#fff" stroke="#7a7a7a" stroke-width="0.8"/><polygon points="247,239.15 249.85,242 247,244.85 244.15,242" fill="#fff" stroke="#7a7a7a" stroke-width="0.8"/><polygon points="259.72,239.15 262.57,242 259.72,244.85 256.87,242" fill="#fff" stroke="#7a7a7a" stroke-width="0.8"/><polygon points="323.32,239.15 326.17,242 323.32,244.85 320.47,242" fill="#fff" stroke="#7a7a7a" stroke-width="0.8"/><line x1="285.16" y1="223.75" x2="285.16" y2="242" stroke="#111" stroke-width="0.8"/><line x1="297.88" y1="233.25" x2="297.88" y2="242" stroke="#111" stroke-width="0.8"/><line x1="310.6" y1="223.75" x2="310.6" y2="242" stroke="#111" stroke-width="0.8"/><line x1="323.32" y1="223.75" x2="323.32" y2="233.25" stroke="#111" stroke-width="0.8"/><polygon points="247,220.9 249.85,223.75 247,226.6 244.15,223.75" fill="#e8353a" stroke="#111" stroke-width="0.9"/><polygon points="285.16,220.9 288.01,223.75 285.16,226.6 282.31,223.75" fill="#e8353a" stroke="#111" stroke-width="0.9"/><polygon points="310.6,220.9 313.45,223.75 310.6,226.6 307.75,223.75" fill="#e8353a" stroke="#111" stroke-width="0.9"/><polygon points="323.32,220.9 326.17,223.75 323.32,226.6 320.47,223.75" fill="#e8353a" stroke="#111" stroke-width="0.9"/><polygon points="259.72,230.4 262.57,233.25 259.72,236.1 256.87,233.25" fill="#3c78c2" stroke="#111" stroke-width="0.9"/><polygon points="297.88,230.4 300.73,233.25 297.88,236.1 295.03,233.25" fill="#3c78c2" stroke="#111" stroke-width="0.9"/><polygon points="310.6,230.4 313.45,233.25 310.6,236.1 307.75,233.25" fill="#3c78c2" stroke="#111" stroke-width="0.9"/><polygon points="323.32,230.4 326.17,233.25 323.32,236.1 320.47,233.25" fill="#3c78c2" stroke="#111" stroke-width="0.9"/><polygon points="272.44,239.15 275.29,242 272.44,244.85 269.59,242" fill="#e8822c" stroke="#111" stroke-width="0.9"/><polygon points="285.16,239.15 288.01,242 285.16,244.85 282.31,242" fill="#e8822c" stroke="#111" stroke-width="0.9"/><polygon points="297.88,239.15 300.73,242 297.88,244.85 295.03,242" fill="#e8822c" stroke="#111" stroke-width="0.9"/><polygon points="310.6,239.15 313.45,242 310.6,244.85 307.75,242" fill="#e8822c" stroke="#111" stroke-width="0.9"/><text transform="translate(346.3,72.9) rotate(-90)" font-size="7.55" font-weight="bold" fill="#e6343c" text-anchor="middle">Cell Lysate Targets</text><text transform="translate(346.3,203.2) rotate(-90)" font-size="7.6" font-weight="bold" fill="#3f5fb4" text-anchor="middle">Living Cell Targets</text><linearGradient id="g1t" gradientUnits="userSpaceOnUse" x1="120" y1="0" x2="162" y2="0"><stop offset="0" stop-color="#969696" stop-opacity="0"/><stop offset="1" stop-color="#969696" stop-opacity="1"/></linearGradient><path d="M-0.5,0.7 H163.1" fill="none" stroke="url(#g1t)" stroke-width="1.9"/><linearGradient id="g1r" gradientUnits="userSpaceOnUse" x1="0" y1="6.2" x2="0" y2="284.4"><stop offset="0" stop-color="#969696" stop-opacity="1"/><stop offset="1" stop-color="#969696" stop-opacity="1"/></linearGradient><path d="M168.6,6.2 V284.4" fill="none" stroke="url(#g1r)" stroke-width="1.9"/><linearGradient id="g1b" gradientUnits="userSpaceOnUse" x1="0" y1="0" x2="165" y2="0"><stop offset="0" stop-color="#969696" stop-opacity="0.05"/><stop offset="1" stop-color="#969696" stop-opacity="1"/></linearGradient><path d="M-0.5,289.9 H163.1" fill="none" stroke="url(#g1b)" stroke-width="1.9"/><path d="M163.1,0.7 A5.5,5.5 0 0 1 168.6,6.2" fill="none" stroke="#969696" stroke-opacity="1" stroke-width="1.9"/><path d="M168.6,284.4 A5.5,5.5 0 0 1 163.1,289.9" fill="none" stroke="#969696" stroke-opacity="1" stroke-width="1.9"/><path d="M-0.5,289.9 A5.5,5.5 0 0 1 -6,284.4" fill="none" stroke="#969696" stroke-opacity="1" stroke-width="1.9"/><linearGradient id="g2t" gradientUnits="userSpaceOnUse" x1="288" y1="0" x2="331" y2="0"><stop offset="0" stop-color="#969696" stop-opacity="0"/><stop offset="1" stop-color="#969696" stop-opacity="1"/></linearGradient><path d="M174.1,0.7 H331.7" fill="none" stroke="url(#g2t)" stroke-width="1.9"/><linearGradient id="g2r" gradientUnits="userSpaceOnUse" x1="0" y1="6.2" x2="0" y2="283.9"><stop offset="0" stop-color="#969696" stop-opacity="1"/><stop offset="1" stop-color="#969696" stop-opacity="1"/></linearGradient><path d="M337.2,6.2 V283.9" fill="none" stroke="url(#g2r)" stroke-width="1.9"/><linearGradient id="g2b" gradientUnits="userSpaceOnUse" x1="169" y1="0" x2="332" y2="0"><stop offset="0" stop-color="#969696" stop-opacity="0.05"/><stop offset="1" stop-color="#969696" stop-opacity="1"/></linearGradient><path d="M174.1,289.4 H331.7" fill="none" stroke="url(#g2b)" stroke-width="1.9"/><path d="M331.7,0.7 A5.5,5.5 0 0 1 337.2,6.2" fill="none" stroke="#969696" stroke-opacity="1" stroke-width="1.9"/><path d="M337.2,283.9 A5.5,5.5 0 0 1 331.7,289.4" fill="none" stroke="#969696" stroke-opacity="1" stroke-width="1.9"/><text transform="translate(84.7,285.9) scale(1,1.1)" font-size="7.8" fill="#111" text-anchor="middle">Ruxolitinib - Ulixertinib</text><text transform="translate(262,285.9) scale(1,1.1)" font-size="7.75" fill="#111" text-anchor="middle">Ly3009120 - Sapanisertib</text><rect x="354" y="0.8" width="164.6" height="288.8" rx="6" fill="none" stroke="#848484" stroke-width="1.8"/><rect x="519.9" y="1" width="164.3" height="288.6" rx="6" fill="none" stroke="#8c8c8c" stroke-width="1.8"/><circle cx="400.5" cy="40.3" r="37.5" fill="url(#bg)"/><circle cx="461" cy="39.7" r="33" fill="url(#pg1)"/><clipPath id="cl0"><circle cx="400.5" cy="40.3" r="37.5"/></clipPath><circle cx="461" cy="39.7" r="33" fill="url(#lg1)" clip-path="url(#cl0)"/><text x="397" y="43.2" font-size="9" font-weight="bold" fill="#111" text-anchor="middle">329</text><text x="433" y="43.2" font-size="9" font-weight="bold" fill="#111" text-anchor="middle">20</text><text x="465" y="43.2" font-size="9" font-weight="bold" fill="#111" text-anchor="middle">250</text><text x="400.75" y="85.8" font-size="8.1" fill="#1e1e1e" stroke="#1e1e1e" stroke-width="0.18" text-anchor="middle" textLength="33.2" lengthAdjust="spacingAndGlyphs">Living cell</text><text x="461.25" y="85.8" font-size="8.1" fill="#1e1e1e" stroke="#1e1e1e" stroke-width="0.18" text-anchor="middle" textLength="33.9" lengthAdjust="spacingAndGlyphs">Cell lysate</text><circle cx="403.4" cy="135.4" r="39.6" fill="url(#bg)"/><circle cx="462" cy="135" r="27" fill="url(#pg1)"/><clipPath id="cl1"><circle cx="403.4" cy="135.4" r="39.6"/></clipPath><circle cx="462" cy="135" r="27" fill="url(#lg1)" clip-path="url(#cl1)"/><text x="402.5" y="138.2" font-size="9" font-weight="bold" fill="#111" text-anchor="middle">283</text><text x="438.25" y="138.2" font-size="9" font-weight="bold" fill="#111" text-anchor="middle">10</text><text x="465" y="138.2" font-size="9" font-weight="bold" fill="#111" text-anchor="middle">131</text><text x="403.75" y="180.8" font-size="8.1" fill="#1e1e1e" stroke="#1e1e1e" stroke-width="0.18" text-anchor="middle" textLength="33.2" lengthAdjust="spacingAndGlyphs">Living cell</text><text x="462" y="180.8" font-size="8.1" fill="#1e1e1e" stroke="#1e1e1e" stroke-width="0.18" text-anchor="middle" textLength="33.9" lengthAdjust="spacingAndGlyphs">Cell lysate</text><circle cx="402.5" cy="236.9" r="35.6" fill="url(#bg)"/><circle cx="461" cy="236.1" r="30.6" fill="url(#pg1)"/><clipPath id="cl2"><circle cx="402.5" cy="236.9" r="35.6"/></clipPath><circle cx="461" cy="236.1" r="30.6" fill="url(#lg1)" clip-path="url(#cl2)"/><text x="403.25" y="238.8" font-size="9" font-weight="bold" fill="#111" text-anchor="middle">295</text><text x="434.25" y="238.8" font-size="9" font-weight="bold" fill="#111" text-anchor="middle">13</text><text x="460.75" y="238.8" font-size="9" font-weight="bold" fill="#111" text-anchor="middle">202</text><text x="402.5" y="286.7" font-size="8.1" fill="#1e1e1e" stroke="#1e1e1e" stroke-width="0.18" text-anchor="middle" textLength="33.2" lengthAdjust="spacingAndGlyphs">Living cell</text><text x="461.25" y="286.7" font-size="8.1" fill="#1e1e1e" stroke="#1e1e1e" stroke-width="0.18" text-anchor="middle" textLength="33.9" lengthAdjust="spacingAndGlyphs">Cell lysate</text><circle cx="565.5" cy="39.4" r="37.6" fill="url(#bg)"/><circle cx="628" cy="38.5" r="36" fill="url(#pg2)"/><clipPath id="cl3"><circle cx="565.5" cy="39.4" r="37.6"/></clipPath><circle cx="628" cy="38.5" r="36" fill="url(#lg2)" clip-path="url(#cl3)"/><text x="567.75" y="41.2" font-size="9" font-weight="bold" fill="#111" text-anchor="middle">325</text><text x="597.75" y="41.2" font-size="9" font-weight="bold" fill="#111" text-anchor="middle">25</text><text x="629.75" y="41.2" font-size="9" font-weight="bold" fill="#111" text-anchor="middle">309</text><text x="565.25" y="85.8" font-size="8.1" fill="#1e1e1e" stroke="#1e1e1e" stroke-width="0.18" text-anchor="middle" textLength="33.2" lengthAdjust="spacingAndGlyphs">Living cell</text><text x="627.75" y="85.8" font-size="8.1" fill="#1e1e1e" stroke="#1e1e1e" stroke-width="0.18" text-anchor="middle" textLength="33.9" lengthAdjust="spacingAndGlyphs">Cell lysate</text><circle cx="569.25" cy="126.6" r="39.1" fill="url(#bg)"/><circle cx="628.75" cy="126" r="35.25" fill="url(#pg1)"/><clipPath id="cl4"><circle cx="569.25" cy="126.6" r="39.1"/></clipPath><circle cx="628.75" cy="126" r="35.25" fill="url(#lg1)" clip-path="url(#cl4)"/><text x="570.25" y="130.2" font-size="9" font-weight="bold" fill="#111" text-anchor="middle">436</text><text x="600.25" y="130.2" font-size="9" font-weight="bold" fill="#111" text-anchor="middle">43</text><text x="632" y="130.2" font-size="9" font-weight="bold" fill="#111" text-anchor="middle">350</text><text x="569.5" y="180.8" font-size="8.1" fill="#1e1e1e" stroke="#1e1e1e" stroke-width="0.18" text-anchor="middle" textLength="33.2" lengthAdjust="spacingAndGlyphs">Living cell</text><text x="628.25" y="180.8" font-size="8.1" fill="#1e1e1e" stroke="#1e1e1e" stroke-width="0.18" text-anchor="middle" textLength="33.9" lengthAdjust="spacingAndGlyphs">Cell lysate</text><circle cx="577.4" cy="232.9" r="45.9" fill="url(#bg)"/><circle cx="638.6" cy="232.1" r="23.4" fill="url(#pg1)"/><clipPath id="cl5"><circle cx="577.4" cy="232.9" r="45.9"/></clipPath><circle cx="638.6" cy="232.1" r="23.4" fill="url(#lg1)" clip-path="url(#cl5)"/><text x="576" y="233.95" font-size="9" font-weight="bold" fill="#111" text-anchor="middle">540</text><text x="619.5" y="233.95" font-size="9" font-weight="bold" fill="#111" text-anchor="middle">13</text><text x="638.25" y="233.95" font-size="9" font-weight="bold" fill="#111" text-anchor="middle">133</text><text x="577.75" y="286.7" font-size="8.1" fill="#1e1e1e" stroke="#1e1e1e" stroke-width="0.18" text-anchor="middle" textLength="33.2" lengthAdjust="spacingAndGlyphs">Living cell</text><text x="639" y="286.7" font-size="8.1" fill="#1e1e1e" stroke="#1e1e1e" stroke-width="0.18" text-anchor="middle" textLength="33.9" lengthAdjust="spacingAndGlyphs">Cell lysate</text><text transform="translate(515.4,39.8) rotate(-90)" font-size="7.3" font-weight="bold" fill="#111" stroke="#111" stroke-width="0.22" text-anchor="middle">LY3009120</text><text transform="translate(514.8,135) rotate(-90)" font-size="7.5" font-weight="bold" fill="#111" stroke="#111" stroke-width="0.22" text-anchor="middle">Sapanisertib</text><text transform="translate(513.9,236.15) rotate(-90)" font-size="7.33" font-weight="bold" fill="#111" stroke="#111" stroke-width="0.22" text-anchor="middle">Ly3009120 - Sapanisertib</text><text transform="translate(681.8,38.5) rotate(-90)" font-size="7.45" font-weight="bold" fill="#111" stroke="#111" stroke-width="0.22" text-anchor="middle">Ruxolitinib</text><text transform="translate(681.8,125.7) rotate(-90)" font-size="7.65" font-weight="bold" fill="#111" stroke="#111" stroke-width="0.22" text-anchor="middle">Ulixertinib</text><text transform="translate(681.8,234.8) rotate(-90)" font-size="7.3" font-weight="bold" fill="#111" stroke="#111" stroke-width="0.22" text-anchor="middle">Ruxolitinib - Ulixertinib</text></g>
</svg>
</body></html>
